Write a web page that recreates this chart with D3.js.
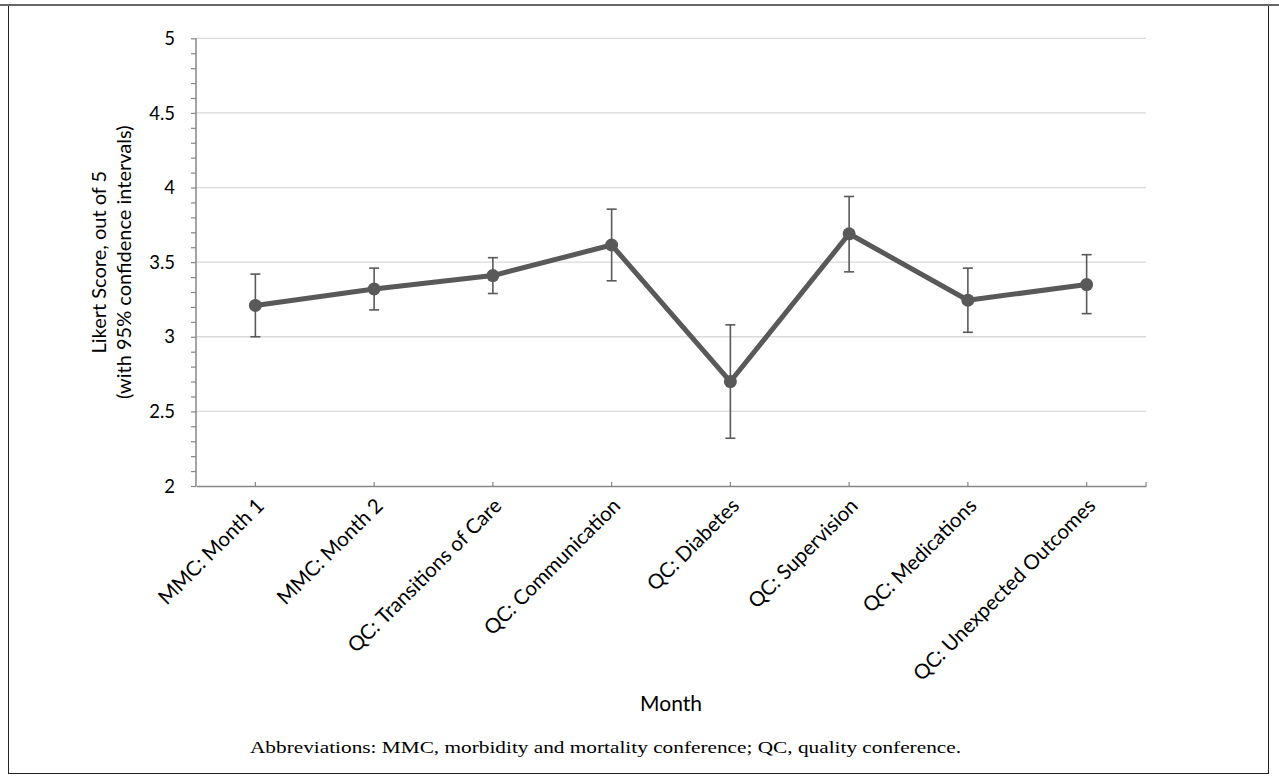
<!DOCTYPE html>
<html>
<head>
<meta charset="utf-8">
<script src="https://cdn.jsdelivr.net/npm/d3@7"></script>
<style>
  html, body { margin: 0; padding: 0; background: #fff; }
  svg { display: block; }
</style>
</head>
<body>
<svg id="chart" width="1279" height="780"></svg>
<script>
// ---- data ----
const categories = ["MMC: Month 1", "MMC: Month 2", "QC: Transitions of Care", "QC: Communication",
  "QC: Diabetes", "QC: Supervision", "QC: Medications", "QC: Unexpected Outcomes"];
const meanScores = [3.21, 3.32, 3.41, 3.615, 2.70, 3.69, 3.245, 3.35];
const ciLower    = [3.00, 3.18, 3.29, 3.375, 2.32, 3.435, 3.03, 3.155];
const ciUpper    = [3.42, 3.46, 3.53, 3.855, 3.08, 3.94, 3.46, 3.55];
const yTicks = [2, 2.5, 3, 3.5, 4, 4.5, 5];
const yMinorTicks = d3.range(20, 51).map(v => v / 10);
const yTitle = ["Likert Score, out of 5", "(with 95% confidence intervals)"];
const xTitle = "Month";
const footnote = "Abbreviations: MMC, morbidity and mortality conference; QC, quality conference.";

// ---- layout ----
const W = 1279, H = 780;
const plot = { left: 196, right: 1146, top: 38.3, bottom: 486 };
const sans = "Lato, 'Open Sans', sans-serif";
const ink = "#595959", axisCol = "#868686", gridCol = "#d9d9d9";

const svg = d3.select("#chart");
svg.append("rect").attr("width", W).attr("height", H).attr("fill", "#fff");

// frame
svg.append("rect").attr("x", 8.5).attr("y", 5.5).attr("width", 1260).attr("height", 768)
  .attr("fill", "none").attr("stroke", "#222").attr("stroke-width", 1);
svg.append("line").attr("x1", 0).attr("x2", W).attr("y1", 5).attr("y2", 5)
  .attr("stroke", "#666").attr("stroke-width", 2);

const x = d3.scaleBand().domain(categories).range([plot.left, plot.right]);
const y = d3.scaleLinear().domain([2, 5]).range([plot.bottom, plot.top]);
const cx = d => x(d) + x.bandwidth() / 2;

// gridlines
svg.append("g").selectAll("line").data(yTicks.filter(t => t > 2)).join("line")
  .attr("x1", plot.left).attr("x2", plot.right)
  .attr("y1", d => y(d)).attr("y2", d => y(d))
  .attr("stroke", gridCol).attr("stroke-width", 1.3);

// y axis
const yAxis = svg.append("g").attr("transform", `translate(${plot.left},0)`)
  .call(d3.axisLeft(y).tickValues(yMinorTicks).tickSize(5).tickFormat(""));
yAxis.select(".domain").attr("stroke", axisCol).attr("stroke-width", 1.5).attr("d", `M0,${plot.top}V${plot.bottom}`);
yAxis.selectAll(".tick line").attr("stroke", axisCol).attr("stroke-width", 1.2);

svg.append("g").selectAll("text").data(yTicks).join("text")
  .attr("x", 175).attr("y", d => y(d)).attr("dy", "0.36em")
  .attr("text-anchor", "end").attr("font-family", sans).attr("font-size", 18.5)
  .attr("fill", "#000").text(d => d);

// x axis
const xAxis = svg.append("g").attr("transform", `translate(0,${plot.bottom})`)
  .call(d3.axisBottom(x).tickSize(-4).tickFormat("").tickSizeOuter(0));
xAxis.select(".domain").attr("stroke", axisCol).attr("stroke-width", 1.5);
xAxis.selectAll(".tick line").attr("stroke", axisCol).attr("stroke-width", 1.2);
xAxis.append("line").attr("x1", plot.right).attr("x2", plot.right).attr("y1", 0).attr("y2", -4)
  .attr("stroke", axisCol).attr("stroke-width", 1.2);

svg.append("g").selectAll("text").data(categories).join("text")
  .attr("transform", d => `translate(${cx(d) + 5},${plot.bottom + 16}) rotate(-45)`)
  .attr("text-anchor", "end").attr("dy", "0.35em")
  .attr("font-family", sans).attr("font-size", 20.5).attr("fill", "#000")
  .text(d => d);

// axis titles
svg.append("text").attr("transform", `translate(106,${(plot.top + plot.bottom) / 2}) rotate(-90)`)
  .attr("text-anchor", "middle").attr("font-family", sans).attr("font-size", 20).attr("fill", "#000")
  .selectAll("tspan").data(yTitle).join("tspan")
  .attr("x", 0).attr("dy", (d, i) => i === 0 ? 0 : 25).text(d => d);

svg.append("text").attr("x", 671).attr("y", 711).attr("text-anchor", "middle")
  .attr("font-family", sans).attr("font-size", 21).attr("fill", "#000").text(xTitle);

svg.append("text").attr("x", 250).attr("y", 753)
  .attr("font-family", "'Liberation Serif', 'DejaVu Serif', serif").attr("font-size", 17)
  .attr("textLength", 711).attr("lengthAdjust", "spacingAndGlyphs")
  .attr("fill", "#000").text(footnote);

// error bars
const eb = svg.append("g").attr("stroke", ink).attr("stroke-width", 1.6);
categories.forEach((c, i) => {
  eb.append("line").attr("x1", cx(c)).attr("x2", cx(c)).attr("y1", y(ciLower[i])).attr("y2", y(ciUpper[i]));
  eb.append("line").attr("x1", cx(c) - 5).attr("x2", cx(c) + 5).attr("y1", y(ciLower[i])).attr("y2", y(ciLower[i]));
  eb.append("line").attr("x1", cx(c) - 5).attr("x2", cx(c) + 5).attr("y1", y(ciUpper[i])).attr("y2", y(ciUpper[i]));
});

// line + markers
const pts = categories.map((c, i) => [cx(c), y(meanScores[i])]);
svg.append("path").attr("d", d3.line()(pts)).attr("fill", "none")
  .attr("stroke", ink).attr("stroke-width", 5).attr("stroke-linejoin", "round");
svg.append("g").selectAll("circle").data(pts).join("circle")
  .attr("cx", d => d[0]).attr("cy", d => d[1]).attr("r", 6.5).attr("fill", ink);
</script>
</body>
</html>
